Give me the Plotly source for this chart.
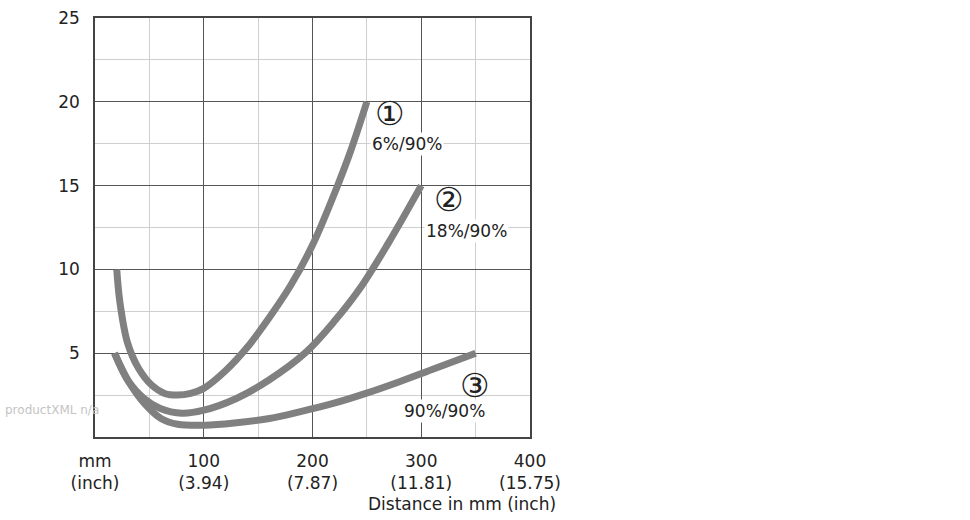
import plotly.graph_objects as go

# distance in mm
curve1_x = [20, 23, 30, 40, 52, 64, 76, 88, 100, 120, 140, 160, 180, 200, 220, 235, 250]
curve1_y = [10.0, 8.0, 5.6, 4.1, 3.1, 2.6, 2.5, 2.6, 2.9, 3.95, 5.35, 7.1, 9.05, 11.45, 14.5, 17.05, 20.0]

curve2_x = [18, 30, 45, 60, 80, 100, 130, 160, 193, 220, 245, 270, 300]
curve2_y = [5.0, 3.4, 2.3, 1.7, 1.42, 1.6, 2.3, 3.4, 5.0, 6.9, 9.0, 11.6, 15.0]

curve3_x = [18, 31, 46, 61, 76, 101, 128, 159, 188, 219, 249, 280, 310, 350]
curve3_y = [5.0, 3.3, 1.96, 1.09, 0.76, 0.70, 0.83, 1.09, 1.5, 2.0, 2.6, 3.3, 4.03, 5.0]

x_ticks = [0, 100, 200, 300, 400]
x_ticktext = ["mm<br>(inch)", "100<br>(3.94)", "200<br>(7.87)", "300<br>(11.81)", "400<br>(15.75)"]
y_ticks = [5, 10, 15, 20, 25]

labels = [
    dict(mark="①", text="6%/90%", mark_xy=(271.6, 19.29), text_xy=(286.7, 17.48)),
    dict(mark="②", text="18%/90%", mark_xy=(325.2, 14.16), text_xy=(341.7, 12.27)),
    dict(mark="③", text="90%/90%", mark_xy=(349.1, 3.1), text_xy=(321.1, 1.54)),
]

FONT = "DejaVu Sans"
curve_color = "#808080"
text_color = "#222"

fig = go.Figure()
for xs, ys in [(curve1_x, curve1_y), (curve2_x, curve2_y), (curve3_x, curve3_y)]:
    fig.add_trace(go.Scatter(
        x=xs, y=ys, mode="lines",
        line=dict(color=curve_color, width=7, shape="spline", smoothing=1.0),
        showlegend=False, hoverinfo="skip",
    ))

for lab in labels:
    fig.add_annotation(x=lab["mark_xy"][0], y=lab["mark_xy"][1], text=lab["mark"],
                       showarrow=False, font=dict(size=33, color=text_color, family=FONT))
    fig.add_annotation(x=lab["text_xy"][0], y=lab["text_xy"][1], text=lab["text"],
                       showarrow=False, bgcolor="white", borderpad=1,
                       font=dict(size=17, color=text_color, family=FONT))

fig.add_annotation(xref="paper", yref="paper", x=1.064, y=-0.161, text="Distance in mm (inch)",
                   showarrow=False, xanchor="right", yanchor="middle",
                   font=dict(size=17, color=text_color, family=FONT))
fig.add_annotation(xref="paper", yref="paper", x=-0.212, y=0.065, text="productXML n/a",
                   showarrow=False, xanchor="left", yanchor="middle",
                   font=dict(size=12, color="#c4c4c4", family=FONT))

fig.update_xaxes(
    range=[0, 400], tickvals=x_ticks, ticktext=x_ticktext,
    showgrid=True, gridcolor="#555", gridwidth=1,
    minor=dict(dtick=50, showgrid=True, gridcolor="#cfcfcf", gridwidth=1),
    showline=True, linecolor="#444", linewidth=1.5, mirror=True,
    ticks="", ticklabelstandoff=8, zeroline=False,
    tickfont=dict(size=17, color=text_color, family=FONT),
)
fig.update_yaxes(
    range=[0, 25], tickvals=y_ticks,
    showgrid=True, gridcolor="#555", gridwidth=1,
    minor=dict(dtick=2.5, showgrid=True, gridcolor="#cfcfcf", gridwidth=1),
    showline=True, linecolor="#444", linewidth=1.5, mirror=True,
    ticks="", ticklabelstandoff=10, zeroline=False, ticklabeloverflow="allow",
    tickfont=dict(size=17, color=text_color, family=FONT),
)
fig.update_layout(
    width=970, height=520,
    margin=dict(l=95, r=440, t=8, b=83),
    plot_bgcolor="white", paper_bgcolor="white",
    font=dict(family=FONT),
)

# drop the page's default body margin so the figure sits at the window's corner
fig.write_html("out.html", config={"displayModeBar": False},
               post_script="document.body.style.margin = '0';")
